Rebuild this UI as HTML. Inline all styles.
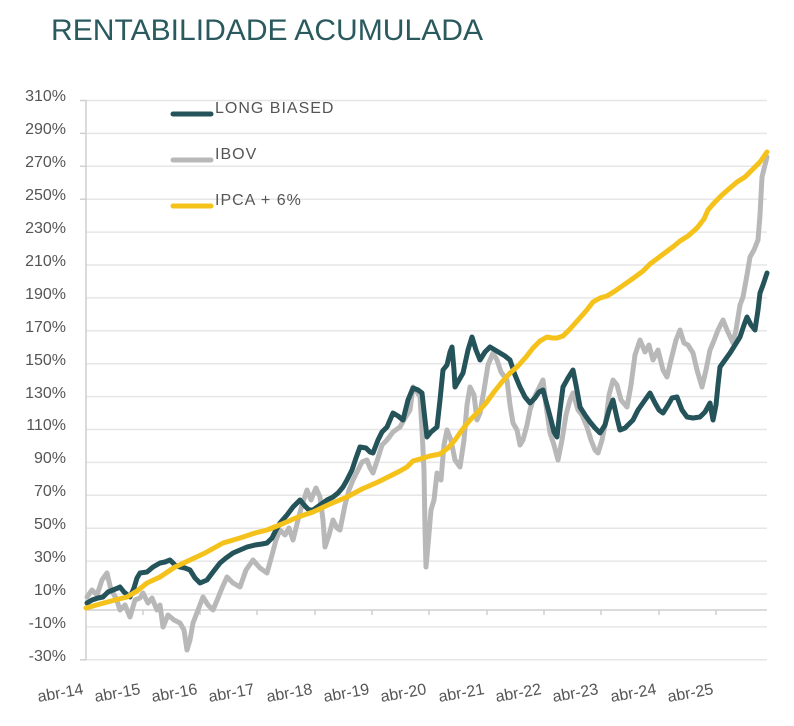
<!DOCTYPE html>
<html><head><meta charset="utf-8"><style>
html,body{margin:0;padding:0;background:#fff;}
svg{display:block;font-family:"Liberation Sans",sans-serif;}
</style></head><body>
<svg width="794" height="726" viewBox="0 0 794 726" xmlns="http://www.w3.org/2000/svg">
<rect width="794" height="726" fill="#fff"/>
<text x="51" y="40" font-size="30" fill="#2a5a5e" textLength="432" lengthAdjust="spacingAndGlyphs">RENTABILIDADE ACUMULADA</text>
<g stroke="#e6e6e6" stroke-width="1.5">
<line x1="86" x2="767" y1="100.5" y2="100.5"/><line x1="86" x2="767" y1="133.4" y2="133.4"/><line x1="86" x2="767" y1="166.3" y2="166.3"/><line x1="86" x2="767" y1="199.2" y2="199.2"/><line x1="86" x2="767" y1="232.1" y2="232.1"/><line x1="86" x2="767" y1="265" y2="265"/><line x1="86" x2="767" y1="297.9" y2="297.9"/><line x1="86" x2="767" y1="330.8" y2="330.8"/><line x1="86" x2="767" y1="363.7" y2="363.7"/><line x1="86" x2="767" y1="396.6" y2="396.6"/><line x1="86" x2="767" y1="429.5" y2="429.5"/><line x1="86" x2="767" y1="462.4" y2="462.4"/><line x1="86" x2="767" y1="495.3" y2="495.3"/><line x1="86" x2="767" y1="528.2" y2="528.2"/><line x1="86" x2="767" y1="561.1" y2="561.1"/><line x1="86" x2="767" y1="594" y2="594"/><line x1="86" x2="767" y1="626.9" y2="626.9"/><line x1="86" x2="767" y1="659.8" y2="659.8"/>
</g>
<g stroke="#cfcfcf" stroke-width="1.5">
<line x1="86" x2="86" y1="100" y2="660"/>
<line x1="86" x2="767" y1="610" y2="610"/>
<line x1="143" x2="143" y1="610" y2="615"/><line x1="200" x2="200" y1="610" y2="615"/><line x1="257" x2="257" y1="610" y2="615"/><line x1="315" x2="315" y1="610" y2="615"/><line x1="372" x2="372" y1="610" y2="615"/><line x1="429" x2="429" y1="610" y2="615"/><line x1="487" x2="487" y1="610" y2="615"/><line x1="544" x2="544" y1="610" y2="615"/><line x1="601" x2="601" y1="610" y2="615"/><line x1="659" x2="659" y1="610" y2="615"/><line x1="716" x2="716" y1="610" y2="615"/>
<line x1="80" x2="86" y1="100.5" y2="100.5"/><line x1="80" x2="86" y1="133.4" y2="133.4"/><line x1="80" x2="86" y1="166.3" y2="166.3"/><line x1="80" x2="86" y1="199.2" y2="199.2"/><line x1="80" x2="86" y1="659.8" y2="659.8"/>
</g>
<g font-size="16" fill="#555" text-anchor="end">
<text x="66" y="101">310%</text><text x="66" y="134">290%</text><text x="66" y="167">270%</text><text x="66" y="200">250%</text><text x="66" y="233">230%</text><text x="66" y="266">210%</text><text x="66" y="299">190%</text><text x="66" y="332">170%</text><text x="66" y="365">150%</text><text x="66" y="398">130%</text><text x="66" y="430">110%</text><text x="66" y="463">90%</text><text x="66" y="496">70%</text><text x="66" y="529">50%</text><text x="66" y="562">30%</text><text x="66" y="595">10%</text><text x="66" y="628">-10%</text><text x="66" y="661">-30%</text>
</g>
<g font-size="16" fill="#555" text-anchor="end">
<text x="84" y="694" transform="rotate(-10 84 694)">abr-14</text>
<text x="141" y="694" transform="rotate(-10 141 694)">abr-15</text>
<text x="198" y="694" transform="rotate(-10 198 694)">abr-16</text>
<text x="255" y="694" transform="rotate(-10 255 694)">abr-17</text>
<text x="313" y="694" transform="rotate(-10 313 694)">abr-18</text>
<text x="370" y="694" transform="rotate(-10 370 694)">abr-19</text>
<text x="427" y="694" transform="rotate(-10 427 694)">abr-20</text>
<text x="485" y="694" transform="rotate(-10 485 694)">abr-21</text>
<text x="542" y="694" transform="rotate(-10 542 694)">abr-22</text>
<text x="599" y="694" transform="rotate(-10 599 694)">abr-23</text>
<text x="657" y="694" transform="rotate(-10 657 694)">abr-24</text>
<text x="714" y="694" transform="rotate(-10 714 694)">abr-25</text>
</g>
<g fill="none" stroke-linejoin="round" stroke-linecap="round">
<polyline stroke="#b8b8b8" stroke-width="5" points="87,597 92,590 97,595 102,580 107,573 111,590 116,598 120,610 125,605 130,617 135,600 140,598 143,593 148,603 152,598 157,610 160,605 163,627 168,615 174,620 180,623 184,630 187,650 190,640 193,623 198,610 203,597 208,605 213,610 218,598 222,588 227,577 233,583 240,587 246,570 253,560 260,568 267,573 272,555 276,540 280,530 285,535 289,528 293,540 298,520 302,505 307,490 311,500 316,488 320,497 323,520 325,547 329,535 333,520 337,528 340,530 345,505 349,490 353,480 358,470 362,462 367,460 370,468 373,473 378,458 382,445 387,440 393,432 400,427 405,418 410,410 413,387 417,392 420,397 422,430 424,470 425,530 426,567 428,545 431,510 434,500 437,473 441,480 444,445 447,430 451,440 455,460 460,467 464,440 467,405 470,387 474,395 477,420 480,413 484,390 488,365 493,353 497,360 501,372 507,380 510,405 513,423 517,430 520,445 523,440 527,425 530,410 533,400 538,390 543,380 546,405 550,433 554,445 558,460 562,440 566,415 570,400 573,393 578,410 582,415 587,427 591,440 595,450 598,453 602,440 606,420 609,395 613,380 617,385 621,400 627,407 631,385 635,355 640,340 645,352 649,345 653,360 658,350 663,370 667,377 671,360 676,340 680,330 684,343 688,345 693,353 697,370 702,387 706,370 710,350 713,343 718,330 723,320 727,330 733,343 736,330 740,305 743,297 747,275 750,257 754,250 758,240 760,215 762,177 765,165 767,157"/>
<polyline stroke="#24535a" stroke-width="5" points="87,603 92,600 98,598 103,597 108,592 113,590 118,588 120,587 124,592 130,597 134,588 137,578 140,573 147,572 153,567 160,563 165,562 170,560 175,565 180,567 185,568 190,570 195,578 200,583 207,580 213,572 220,563 226,558 233,553 240,550 247,547 255,545 262,544 267,543 272,538 276,530 280,523 287,515 293,507 300,500 305,506 309,510 313,510 320,505 327,500 333,497 338,493 343,487 347,480 352,470 356,458 360,447 366,448 370,452 373,453 378,440 382,432 387,427 390,420 393,413 398,416 403,420 408,400 413,388 418,390 422,393 425,420 427,437 431,432 437,427 440,400 443,370 447,365 450,352 452,347 454,370 455,387 459,380 463,373 468,350 472,337 476,350 480,360 485,352 490,347 495,350 500,353 505,356 510,360 515,375 520,387 525,397 530,403 535,398 539,392 543,390 547,405 551,420 554,432 557,437 560,410 563,387 568,378 573,370 576,385 580,407 585,415 590,422 595,428 600,433 605,425 609,410 613,400 617,418 620,430 625,428 629,424 633,420 638,410 645,400 650,393 655,403 659,410 663,413 668,405 672,398 677,397 682,410 687,417 693,418 700,417 705,412 710,403 713,420 716,405 718,385 720,367 725,360 730,353 735,345 740,337 744,325 747,317 751,325 755,330 758,310 760,293 763,285 767,273"/>
<polyline stroke="#f5c21b" stroke-width="5" points="86,608 100,604 115,600 127,597 137,591 147,583 160,577 175,567 190,560 205,553 223,543 240,538 255,533 267,530 282,524 298,517 313,512 330,504 347,497 362,489 378,482 392,475 400,471 407,467 413,461 420,459 430,456 440,454 448,448 455,440 462,430 470,420 478,412 486,403 494,392 502,382 510,373 518,366 526,357 533,348 540,341 547,337 552,338 557,338 563,336 570,329 578,320 586,311 593,302 600,298 607,296 615,291 625,284 635,277 643,271 650,264 658,258 666,252 674,246 680,241 688,236 697,228 704,219 708,210 714,203 722,195 730,188 737,182 745,177 752,170 760,162 767,152"/>
</g>
<g stroke-width="5" stroke-linecap="round">
<line x1="173" x2="211" y1="114" y2="114" stroke="#24535a"/>
<line x1="173" x2="211" y1="160" y2="160" stroke="#b8b8b8"/>
<line x1="173" x2="211" y1="206" y2="206" stroke="#f5c21b"/>
</g>
<g font-size="16" fill="#555" letter-spacing="1">
<text x="215" y="113">LONG BIASED</text>
<text x="215" y="159">IBOV</text>
<text x="215" y="205">IPCA + 6%</text>
</g>
</svg>
</body></html>
